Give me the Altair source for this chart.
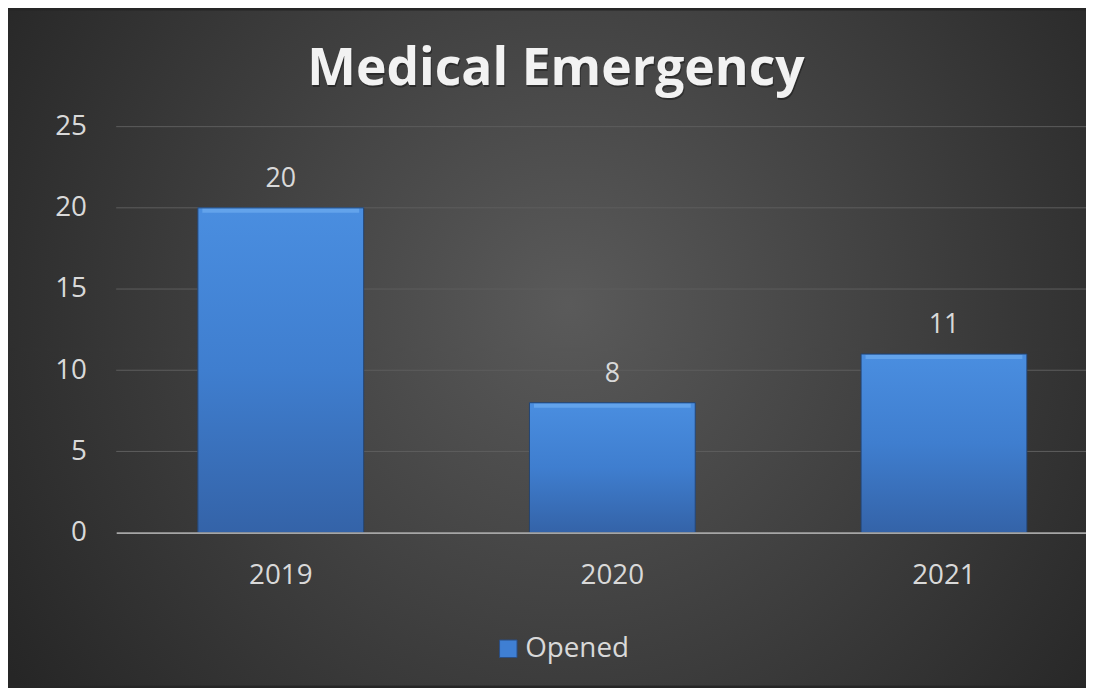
import altair as alt
import pandas as pd

years = ["2019", "2020", "2021"]
opened = [20, 8, 11]
y_ticks = [0, 5, 10, 15, 20, 25]
series_name = "Opened"
chart_title = "Medical Emergency"

df = pd.DataFrame({"year": years, "value": opened, "series": [series_name] * len(years)})
grid_df = pd.DataFrame({"tick": y_ticks})
title_df = pd.DataFrame({"title": [chart_title]})

FONT = "Open Sans"
TXT = "#d9d9d9"

x_scale = alt.Scale(domain=years, paddingInner=0.5, paddingOuter=0.2123, align=0.58)
y_scale = alt.Scale(domain=[0, 25])

bg_grad = {
    "gradient": "radial",
    "x1": 0.52, "y1": 0.46, "r1": 0,
    "x2": 0.52, "y2": 0.46, "r2": 0.62,
    "stops": [
        {"offset": 0, "color": "#5a5a5a"},
        {"offset": 1, "color": "#262626"},
    ],
}

bar_grad = {
    "gradient": "linear",
    "x1": 0, "y1": 0, "x2": 0, "y2": 1,
    "stops": [
        {"offset": 0, "color": "#4a8ee0"},
        {"offset": 0.5, "color": "#3f7ecf"},
        {"offset": 1, "color": "#3463a8"},
    ],
}

background = alt.Chart(pd.DataFrame({"a": [0]})).mark_rect(color=bg_grad).encode(
    x=alt.value(-109), x2=alt.value(977), y=alt.value(-117), y2=alt.value(563)
)

title_shadow = alt.Chart(title_df).mark_text(
    font=FONT, fontSize=52, fontWeight="bold", color="#000000", opacity=0.35,
    align="center", baseline="alphabetic", dx=1, dy=2,
).encode(x=alt.value(443), y=alt.value(-42), text="title:N")

title_text = alt.Chart(title_df).mark_text(
    font=FONT, fontSize=52, fontWeight="bold", color="#f2f2f2",
    align="center", baseline="alphabetic",
).encode(x=alt.value(443), y=alt.value(-42), text="title:N")

grid = alt.Chart(grid_df).transform_filter("datum.tick > 0").mark_rule(
    color="#5e5e5e", strokeWidth=1
).encode(y=alt.Y("tick:Q", scale=y_scale))

legend_bars = alt.Chart(df).mark_bar().encode(
    x=alt.X("year:N", scale=x_scale, sort=years),
    y=alt.Y("value:Q", scale=y_scale),
    color=alt.Color(
        "series:N",
        scale=alt.Scale(domain=[series_name], range=["#3f7fd3"]),
        legend=alt.Legend(
            title=None, orient="none", legendX=381, legendY=512,
            symbolType="square", symbolSize=310, symbolStrokeColor="#2a4f86",
            symbolStrokeWidth=1, labelFont=FONT, labelFontSize=28,
            labelColor=TXT, labelOffset=3,
        ),
    ),
)

bars = alt.Chart(df).mark_bar(color=bar_grad, stroke="#24446f", strokeWidth=1).encode(
    x=alt.X(
        "year:N", scale=x_scale, sort=years,
        axis=alt.Axis(
            title=None, labelAngle=0, labelAlign="center", ticks=False, grid=False,
            domainColor="#a6a6a6", domainWidth=2, labelFont=FONT, labelFontSize=28,
            labelColor=TXT, labelBaseline="alphabetic", labelPadding=51, zindex=1,
        ),
    ),
    y=alt.Y(
        "value:Q", scale=y_scale,
        axis=alt.Axis(
            title=None, values=y_ticks, ticks=False, grid=False, domain=False,
            labelFont=FONT, labelFontSize=28, labelColor=TXT, labelPadding=30,
            labelBaseline="middle", zindex=1,
        ),
    ),
)

bevel = alt.Chart(df).mark_tick(
    color="#6eacf0", thickness=4, size=158, yOffset=3, orient="horizontal"
).encode(
    x=alt.X("year:N", scale=x_scale, sort=years),
    y=alt.Y("value:Q", scale=y_scale),
)

labels = alt.Chart(df).mark_text(
    font=FONT, fontSize=27, color=TXT, baseline="alphabetic", dy=-21
).encode(
    x=alt.X("year:N", scale=x_scale, sort=years),
    y=alt.Y("value:Q", scale=y_scale),
    text=alt.Text("value:Q"),
)

chart = alt.layer(
    background, title_shadow, title_text, grid, legend_bars, bars, bevel, labels
).properties(
    width=977,
    height=409,
    autosize=alt.AutoSizeParams(type="none"),
    padding={"left": 109, "top": 117, "right": 0, "bottom": 154},
).configure(background="#262626").configure_view(stroke=None)

chart.save("out.html", embed_options={"renderer": "svg", "actions": False})
